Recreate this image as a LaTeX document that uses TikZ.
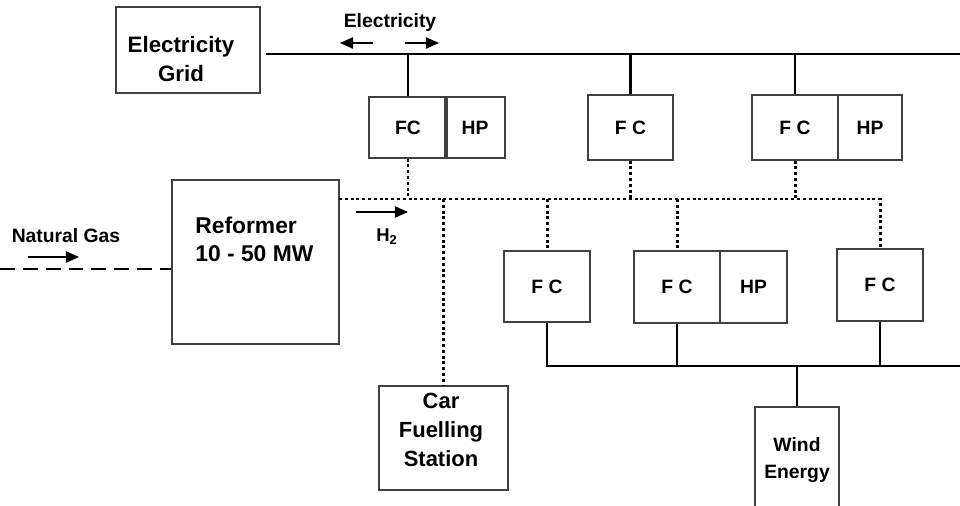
\documentclass[tikz,border=0pt]{standalone}
\usepackage{fontspec}
\setmainfont{Liberation Sans}
\usetikzlibrary{arrows.meta}

\tikzset{
  unit/.style={draw=black!75, line width=0.8pt, inner sep=0pt, font=\bfseries\fontsize{11}{13}\selectfont},
  txt/.style={inner sep=0pt, align=center, font=\bfseries\fontsize{12.7}{16}\selectfont},
  bus/.style={line width=1.6pt},
  hline/.style={line width=1.7pt, dash pattern=on 1.7pt off 1.6pt},
  gasline/.style={line width=1.6pt, dash pattern=on 8.5pt off 4.5pt},
  flow/.style={line width=0.8pt, -{Triangle[length=7.5pt,width=6.5pt]}},
}

\begin{document}
\begin{tikzpicture}[x=0.02cm, y=-0.02cm]
    \clip (0,0) rectangle (960,506);

    % Stromnetz
    \node[unit, minimum width=2.88cm, minimum height=1.72cm] (grid) at (188,50) {};
    \node[txt] (gridtxt) at (181,59) {Electricity\\Grid};
    \coordinate (gridtap) at (266,54);
    \coordinate (gridend) at (960,54);
    \draw[bus] (gridtap) -- (gridend);
    \node[inner sep=0pt, font=\bfseries\fontsize{11}{13}\selectfont] (eltxt) at (390,23) {Electricity};
    \coordinate (elL1) at (373,43);
    \coordinate (elL2) at (340,43);
    \coordinate (elR1) at (405,43);
    \coordinate (elR2) at (439,43);
    \draw[flow] (elL1) -- (elL2);
    \draw[flow] (elR1) -- (elR2);

    % obere Brennstoffzellen
    \node[unit, minimum width=1.56cm, minimum height=1.22cm] (fc1) at (408,127.5) {FC};
    \node[unit, minimum width=1.2cm, minimum height=1.22cm] (hp1) at (475,127.5) {HP};
    \node[unit, minimum width=1.7cm, minimum height=1.3cm] (fc2) at (630.5,127.5) {F C};
    \node[unit, minimum width=1.72cm, minimum height=1.3cm] (fc3) at (795,127.5) {F C};
    \node[unit, minimum width=1.28cm, minimum height=1.3cm] (hp3) at (870,127.5) {HP};
    \draw[bus] (fc1.north) -- (fc1.north |- gridtap);
    \draw[bus] (fc2.north) -- (fc2.north |- gridtap);
    \draw[bus] (fc3.north) -- (fc3.north |- gridtap);

    % Reformer
    \node[unit, minimum width=3.34cm, minimum height=3.28cm] (ref) at (255.5,262) {};
    \node[txt, align=left, anchor=west, font=\bfseries\fontsize{13}{16}\selectfont] (reftxt) at (195,239) {Reformer\\10 - 50 MW};
    \coordinate (gasin) at (0,269);
    \draw[gasline] (gasin) -- (gasin -| ref.west);
    \node[inner sep=0pt, font=\bfseries\fontsize{11}{12}\selectfont] (gastxt) at (66,236) {Natural Gas};
    \coordinate (gasA) at (28,257);
    \coordinate (gasB) at (79,257);
    \draw[flow] (gasA) -- (gasB);

    % untere Brennstoffzellen
    \node[unit, minimum width=1.72cm, minimum height=1.42cm] (fc4) at (547,286.5) {F C};
    \node[unit, minimum width=1.72cm, minimum height=1.44cm] (fc5) at (677,287) {F C};
    \node[unit, minimum width=1.34cm, minimum height=1.44cm] (hp5) at (753.5,287) {HP};
    \node[unit, minimum width=1.72cm, minimum height=1.44cm] (fc6) at (880,285) {F C};

    % Tankstelle
    \node[unit, minimum width=2.58cm, minimum height=2.08cm] (car) at (443.5,438) {};
    \node[txt, font=\bfseries\fontsize{12.5}{16.4}\selectfont] (cartxt) at (441,430) {Car\\Fuelling\\Station};

    % Wasserstoffleitung
    \coordinate (h2start) at (339,199);
    \draw[hline] (h2start) -- (h2start -| fc6.north) -- (fc6.north);
    \coordinate (h2A) at (356,212);
    \coordinate (h2B) at (408,212);
    \draw[flow] (h2A) -- (h2B);
    \node[inner sep=0pt, font=\bfseries\fontsize{10.5}{12}\selectfont] (h2txt) at (387,237) {H\textsubscript{2}};
    \draw[hline] (fc1.south) -- (fc1.south |- h2start);
    \draw[hline] (fc2.south) -- (fc2.south |- h2start);
    \draw[hline] (fc3.south) -- (fc3.south |- h2start);
    \draw[hline] (fc4.north |- h2start) -- (fc4.north);
    \draw[hline] (fc5.north |- h2start) -- (fc5.north);
    \draw[hline] (car.north |- h2start) -- (car.north);

    % Windenergie
    \coordinate (windbus) at (960,366);
    \node[unit, minimum width=1.68cm, minimum height=2.12cm, align=center, font=\bfseries\fontsize{11}{15.3}\selectfont] (wind) at (797,460) {Wind\\Energy};
    \draw[bus] (fc4.south) -- (fc4.south |- windbus) -- (windbus);
    \draw[bus] (fc5.south) -- (fc5.south |- windbus);
    \draw[bus] (fc6.south) -- (fc6.south |- windbus);
    \draw[bus] (wind.north) -- (wind.north |- windbus);
\end{tikzpicture}
\end{document}
